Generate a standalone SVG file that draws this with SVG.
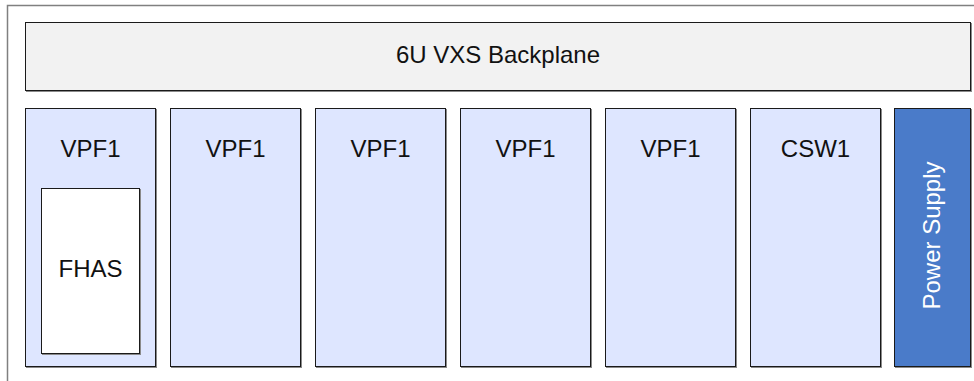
<svg xmlns="http://www.w3.org/2000/svg" width="974" height="381" viewBox="0 0 974 381">
<style>
.frame{fill:#ffffff;stroke:#808080;stroke-width:1.5}
.shadow{fill:#8a8a8a}
.bp{fill:#f2f2f2;stroke:#1a1a1a;stroke-width:1}
.card{fill:#dee6ff;stroke:#1a1a1a;stroke-width:1}
.inner{fill:#ffffff;stroke:#1a1a1a;stroke-width:1}
.ps{fill:#4a7bc9;stroke:#1a1a1a;stroke-width:1}
.t{font-family:"Liberation Sans",Arial,sans-serif;font-size:24px;fill:#111111;text-anchor:middle}
.tw{font-family:"Liberation Sans",Arial,sans-serif;font-size:24px;fill:#ffffff;text-anchor:middle}
</style>
<rect class="frame" x="7.5" y="5.5" width="980" height="390"/>
<g id="backplane">
<rect class="shadow" x="26" y="23" width="946" height="69"/>
<rect class="bp" x="25.5" y="22.5" width="945" height="68"/>
<text class="t" x="498" y="63">6U VXS Backplane</text>
</g>
<g id="card1">
<rect class="shadow" x="26" y="109" width="131" height="259"/>
<rect class="card" x="25.5" y="108.5" width="130" height="258"/>
<text class="t" x="90.5" y="157">VPF1</text>
</g>
<g id="fhas">
<rect class="shadow" x="42" y="189" width="99" height="166"/>
<rect class="inner" x="41.5" y="188.5" width="98" height="165"/>
<text class="t" x="90.5" y="277">FHAS</text>
</g>
<g id="card2">
<rect class="shadow" x="171" y="109" width="131" height="259"/>
<rect class="card" x="170.5" y="108.5" width="130" height="258"/>
<text class="t" x="235.5" y="157">VPF1</text>
</g>
<g id="card3">
<rect class="shadow" x="316" y="109" width="131" height="259"/>
<rect class="card" x="315.5" y="108.5" width="130" height="258"/>
<text class="t" x="380.5" y="157">VPF1</text>
</g>
<g id="card4">
<rect class="shadow" x="461" y="109" width="131" height="259"/>
<rect class="card" x="460.5" y="108.5" width="130" height="258"/>
<text class="t" x="525.5" y="157">VPF1</text>
</g>
<g id="card5">
<rect class="shadow" x="606" y="109" width="131" height="259"/>
<rect class="card" x="605.5" y="108.5" width="130" height="258"/>
<text class="t" x="670.5" y="157">VPF1</text>
</g>
<g id="csw1">
<rect class="shadow" x="751" y="109" width="131" height="259"/>
<rect class="card" x="750.5" y="108.5" width="130" height="258"/>
<text class="t" x="815.5" y="157">CSW1</text>
</g>
<g id="powersupply">
<rect class="shadow" x="895" y="109" width="77" height="259"/>
<rect class="ps" x="894.5" y="108.5" width="76" height="258"/>
<text class="tw" transform="translate(939.5,235.5) rotate(-90)" x="0" y="0">Power Supply</text>
</g>
<g id="connectors"></g>
</svg>
